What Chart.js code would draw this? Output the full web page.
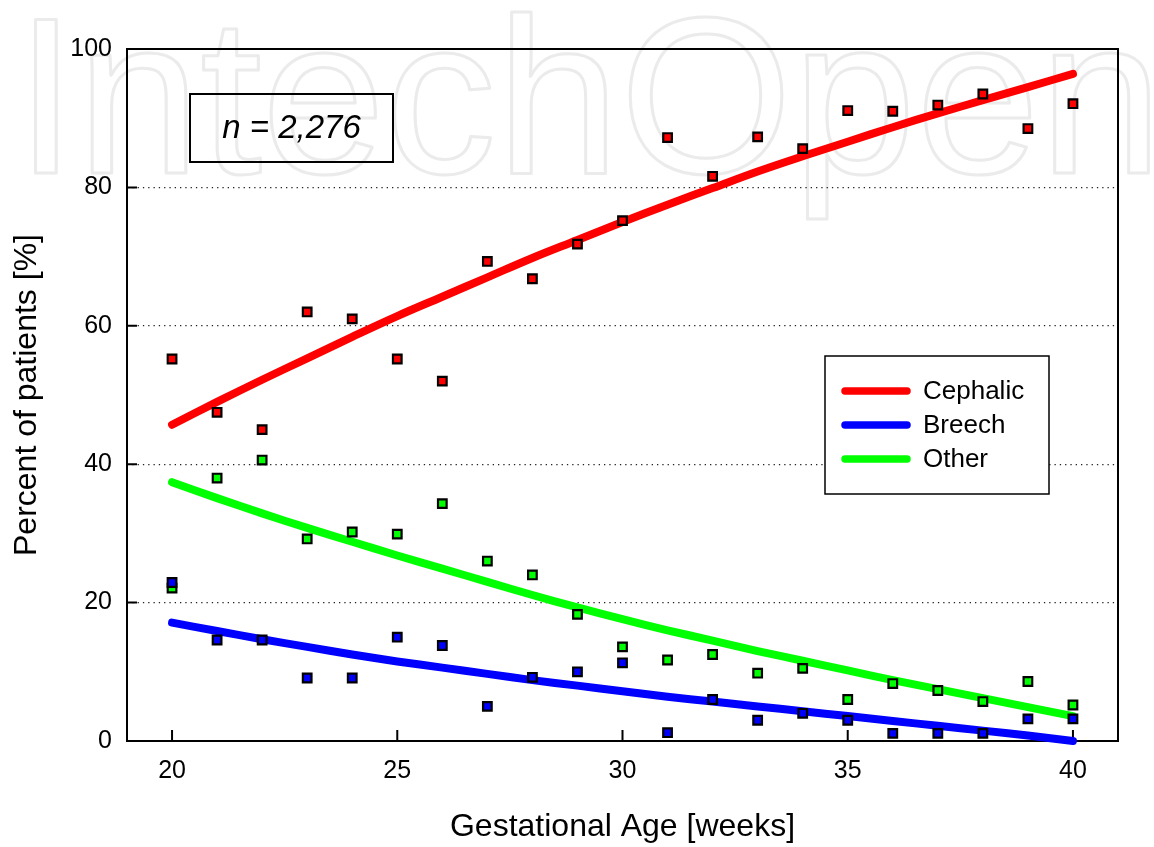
<!DOCTYPE html>
<html>
<head>
<meta charset="utf-8">
<title>Fetal presentation by gestational age</title>
<script src="https://cdn.jsdelivr.net/npm/chart.js@4.4.0/dist/chart.umd.min.js"></script>
<style>
    html, body { margin: 0; padding: 0; background: #fff; }
    #chart { display: block; }
</style>
</head>
<body>
<canvas id="chart" width="1154" height="847"></canvas>
<script>
// gestational weeks
const weeks = [20, 21, 22, 23, 24, 25, 26, 27, 28, 29, 30, 31, 32, 33, 34, 35, 36, 37, 38, 39, 40];

// observed percentages (square markers)
const cephalicObs = [55.2, 47.5, 45.0, 62.0, 61.0, 55.2, 52.0, 69.3, 66.8, 71.8, 75.2, 87.2, 81.6, 87.3, 85.6, 91.1, 91.0, 91.9, 93.5, 88.5, 92.1];
const breechObs   = [22.9, 14.6, 14.6, 9.1, 9.1, 15.0, 13.8, 5.0, 9.2, 10.0, 11.3, 1.2, 6.0, 3.0, 4.0, 3.0, 1.1, 1.1, 1.1, 3.2, 3.2];
const otherObs    = [22.1, 38.0, 40.6, 29.2, 30.2, 29.9, 34.3, 26.0, 24.0, 18.3, 13.6, 11.7, 12.5, 9.8, 10.5, 6.0, 8.3, 7.3, 5.7, 8.6, 5.2];

// fitted curves
const cephalicFit = [45.7, 49.0, 52.2, 55.3, 58.4, 61.4, 64.2, 67.0, 69.8, 72.4, 75.0, 77.5, 79.9, 82.3, 84.5, 86.6, 88.7, 90.7, 92.6, 94.5, 96.4];
const breechFit   = [17.1, 15.9, 14.7, 13.6, 12.5, 11.5, 10.6, 9.7, 8.8, 8.0, 7.2, 6.4, 5.7, 5.0, 4.3, 3.6, 2.9, 2.2, 1.5, 0.8, 0.0];
const otherFit    = [37.4, 35.1, 32.9, 30.8, 28.8, 26.8, 24.9, 23.0, 21.1, 19.3, 17.6, 16.0, 14.5, 13.0, 11.6, 10.2, 8.8, 7.5, 6.2, 4.9, 3.6];

// axis ticks
const xTicks = [20, 25, 30, 35, 40];
const yTicks = [0, 20, 40, 60, 80, 100];

const seriesNames = ['Cephalic', 'Breech', 'Other'];

const RED = '#ff0000', BLUE = '#0000ff', GREEN = '#00ff00';
const FONT = "'Liberation Sans', Arial, Helvetica, sans-serif";

function pts(ys) {
    return weeks.map(function (w, i) { return { x: w, y: ys[i] }; });
}

function fitSet(label, ys, color) {
    return {
        type: 'line',
        label: label,
        data: pts(ys),
        borderColor: color,
        backgroundColor: color,
        borderWidth: 8,
        borderCapStyle: 'round',
        borderJoinStyle: 'round',
        pointRadius: 0,
        tension: 0.4,
        showLine: true,
        clip: false,
        order: 2
    };
}

function obsSet(label, ys, color, order) {
    return {
        type: 'scatter',
        label: label,
        data: pts(ys),
        pointStyle: 'rect',
        pointRadius: 6.1,
        pointBorderWidth: 2.2,
        pointBorderColor: '#000',
        pointBackgroundColor: color,
        clip: false,
        order: order
    };
}

// white page + faint watermark behind everything
const backdrop = {
    id: 'backdrop',
    beforeDraw(chart) {
        const ctx = chart.ctx;
        ctx.save();
        ctx.fillStyle = '#fff';
        ctx.fillRect(0, 0, chart.width, chart.height);
        ctx.font = '222px ' + FONT;
        ctx.textBaseline = 'alphabetic';
        ctx.textAlign = 'left';
        ctx.lineWidth = 3;
        ctx.lineJoin = 'round';
        ctx.strokeStyle = '#ebebeb';
        ctx.strokeText('IntechOpen', 15, 173);
        ctx.restore();
    }
};

// box frame and inward ticks
const frame = {
    id: 'frame',
    beforeDatasetsDraw(chart) {
        const ctx = chart.ctx, a = chart.chartArea;
        const xs = chart.scales.x, ys = chart.scales.y;
        ctx.save();
        ctx.strokeStyle = '#000';
        ctx.lineWidth = 2;
        ctx.strokeRect(a.left, a.top, a.right - a.left, a.bottom - a.top);
        ctx.beginPath();
        yTicks.forEach(function (v) {
            const y = ys.getPixelForValue(v);
            ctx.moveTo(a.left, y);
            ctx.lineTo(a.left + 10, y);
        });
        xTicks.forEach(function (v) {
            const x = xs.getPixelForValue(v);
            ctx.moveTo(x, a.bottom);
            ctx.lineTo(x, a.bottom - 11);
        });
        ctx.stroke();
        ctx.restore();
    }
};

// n box and legend box
const boxes = {
    id: 'boxes',
    afterDatasetsDraw(chart) {
        const ctx = chart.ctx;
        ctx.save();
        ctx.strokeStyle = '#000';
        ctx.lineWidth = 2;
        ctx.strokeRect(190, 94, 203, 68);
        ctx.fillStyle = '#000';
        ctx.font = 'italic 33px ' + FONT;
        ctx.textAlign = 'center';
        ctx.textBaseline = 'middle';
        ctx.fillText('n = 2,276', 291.5, 129);

        ctx.fillStyle = '#fff';
        ctx.fillRect(825, 356, 224, 138);
        ctx.lineWidth = 1.5;
        ctx.strokeRect(825, 356, 224, 138);
        const colors = [RED, BLUE, GREEN];
        ctx.font = '26px ' + FONT;
        ctx.textAlign = 'left';
        ctx.lineCap = 'round';
        seriesNames.forEach(function (name, i) {
            const y = 391 + i * 34;
            ctx.strokeStyle = colors[i];
            ctx.lineWidth = 7.5;
            ctx.beginPath();
            ctx.moveTo(845, y);
            ctx.lineTo(907, y);
            ctx.stroke();
            ctx.fillStyle = '#000';
            ctx.fillText(name, 923, y + 1);
        });
        ctx.restore();
    }
};

new Chart(document.getElementById('chart').getContext('2d'), {
    data: {
        datasets: [
            obsSet(seriesNames[1], breechObs, BLUE, 0),
            obsSet(seriesNames[2], otherObs, GREEN, 1),
            obsSet(seriesNames[0], cephalicObs, RED, 1),
            fitSet(seriesNames[0], cephalicFit, RED),
            fitSet(seriesNames[1], breechFit, BLUE),
            fitSet(seriesNames[2], otherFit, GREEN)
        ]
    },
    options: {
        responsive: false,
        animation: false,
        devicePixelRatio: 1,
        layout: { padding: { top: 49, right: 36, bottom: 0, left: 0 } },
        plugins: {
            legend: { display: false },
            tooltip: { enabled: false }
        },
        scales: {
            x: {
                type: 'linear',
                min: 19,
                max: 41,
                afterBuildTicks: function (s) { s.ticks = xTicks.map(function (v) { return { value: v }; }); },
                afterFit: function (s) { s.height = 106; },
                grid: { display: false, drawTicks: false },
                border: { display: false },
                ticks: { color: '#000', padding: 15, font: { family: FONT, size: 25 } },
                title: {
                    display: true,
                    text: 'Gestational Age [weeks]',
                    color: '#000',
                    padding: { top: 0, bottom: 1 },
                    font: { family: FONT, size: 32 }
                }
            },
            y: {
                type: 'linear',
                min: 0,
                max: 100,
                afterBuildTicks: function (s) { s.ticks = yTicks.map(function (v) { return { value: v }; }); },
                afterFit: function (s) { s.width = 127; },
                grid: {
                    drawTicks: false,
                    color: function (c) { return (c.tick && c.tick.value > 0 && c.tick.value < 100) ? '#222' : 'rgba(0,0,0,0)'; },
                    lineWidth: 1.3
                },
                border: { display: false, dash: [1.3, 4] },
                ticks: { color: '#000', padding: 15, font: { family: FONT, size: 25 } },
                title: {
                    display: true,
                    text: 'Percent of patients [%]',
                    color: '#000',
                    padding: { top: 8, bottom: 0 },
                    font: { family: FONT, size: 32 }
                }
            }
        }
    },
    plugins: [backdrop, frame, boxes]
});
</script>
</body>
</html>
